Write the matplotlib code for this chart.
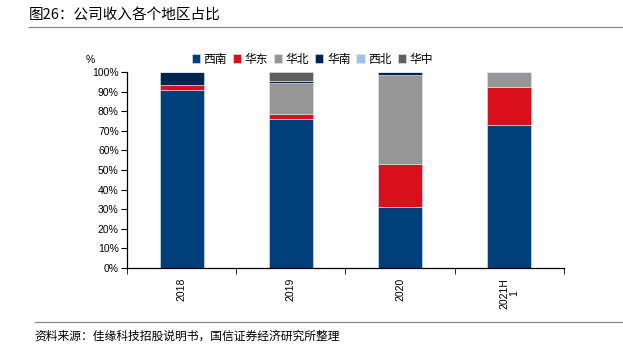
import matplotlib
matplotlib.use("Agg")
import matplotlib.pyplot as plt
import numpy as np

plt.rcParams["font.family"] = ["Noto Sans CJK SC", "DejaVu Sans"]

categories = ["2018", "2019", "2020", "2021H\n1"]
regions = ["西南", "华东", "华北", "华南", "西北", "华中"]
xinan = [91.0, 76.0, 31.0, 72.8]
huadong = [2.5, 2.6, 22.0, 19.7]
huabei = [0.0, 15.9, 45.6, 7.5]
huanan = [6.5, 0.9, 1.4, 0.0]
xibei = [0.0, 0.0, 0.0, 0.0]
huazhong = [0.0, 4.6, 0.0, 0.0]
series = [xinan, huadong, huabei, huanan, xibei, huazhong]
colors = ["#003f7a", "#d7101b", "#969696", "#00244f", "#9dc3e6", "#5f5f5f"]

fig = plt.figure(figsize=(6.23, 3.53), dpi=100)
ax = fig.add_axes([0.204, 0.241, 0.701, 0.555])

x = np.arange(len(categories))
bottom = np.zeros(len(categories))
for name, vals, c in zip(regions, series, colors):
    ax.bar(x, vals, 0.4, bottom=bottom, color=c, label=name,
           edgecolor="#dfe8f2", linewidth=0.4)
    bottom += np.array(vals)

ax.set_xlim(-0.5, len(categories) - 0.5)
ax.set_ylim(0, 100)
ax.set_yticks(np.arange(0, 101, 10))
ax.set_yticklabels([f"{v}%" for v in range(0, 101, 10)],
                   family=["Liberation Sans", "DejaVu Sans"], fontsize=7.5)
ax.set_xticks(x)
ax.set_xticklabels(categories, rotation=90, family=["Liberation Sans", "DejaVu Sans"],
                   fontsize=7.5, linespacing=0.9)
ax.tick_params(axis="x", length=0, pad=7)
ax.set_xticks(np.arange(-0.5, len(categories)), minor=True)
ax.tick_params(axis="x", which="minor", length=4, direction="out")
ax.tick_params(axis="y", length=4, direction="out", pad=2)
for s in ("top", "right"):
    ax.spines[s].set_visible(False)
ax.spines["left"].set_linewidth(0.9)
ax.spines["bottom"].set_linewidth(0.9)

ax.text(-0.085, 1.035, "%", transform=ax.transAxes, fontsize=7.5,
        family=["Liberation Sans", "DejaVu Sans"], ha="center", va="bottom")

ax.legend(loc="lower center", bbox_to_anchor=(0.424, 1.008), ncol=6, frameon=False,
          fontsize=8.5, handlelength=0.7, handleheight=0.7, handletextpad=0.3,
          columnspacing=0.5, borderaxespad=0)

fig.text(0.047, 0.958, "图26：公司收入各个地区占比", fontsize=10.5, ha="left", va="center")
fig.add_artist(plt.Line2D([0.047, 1.0], [0.923, 0.923], color="#888888", lw=0.9))
fig.add_artist(plt.Line2D([0.056, 1.0], [0.088, 0.088], color="#888888", lw=0.9))
fig.text(0.056, 0.048, "资料来源：佳缘科技招股说明书，国信证券经济研究所整理",
         fontsize=8.5, ha="left", va="center")

fig.savefig("out.png", dpi=100)
